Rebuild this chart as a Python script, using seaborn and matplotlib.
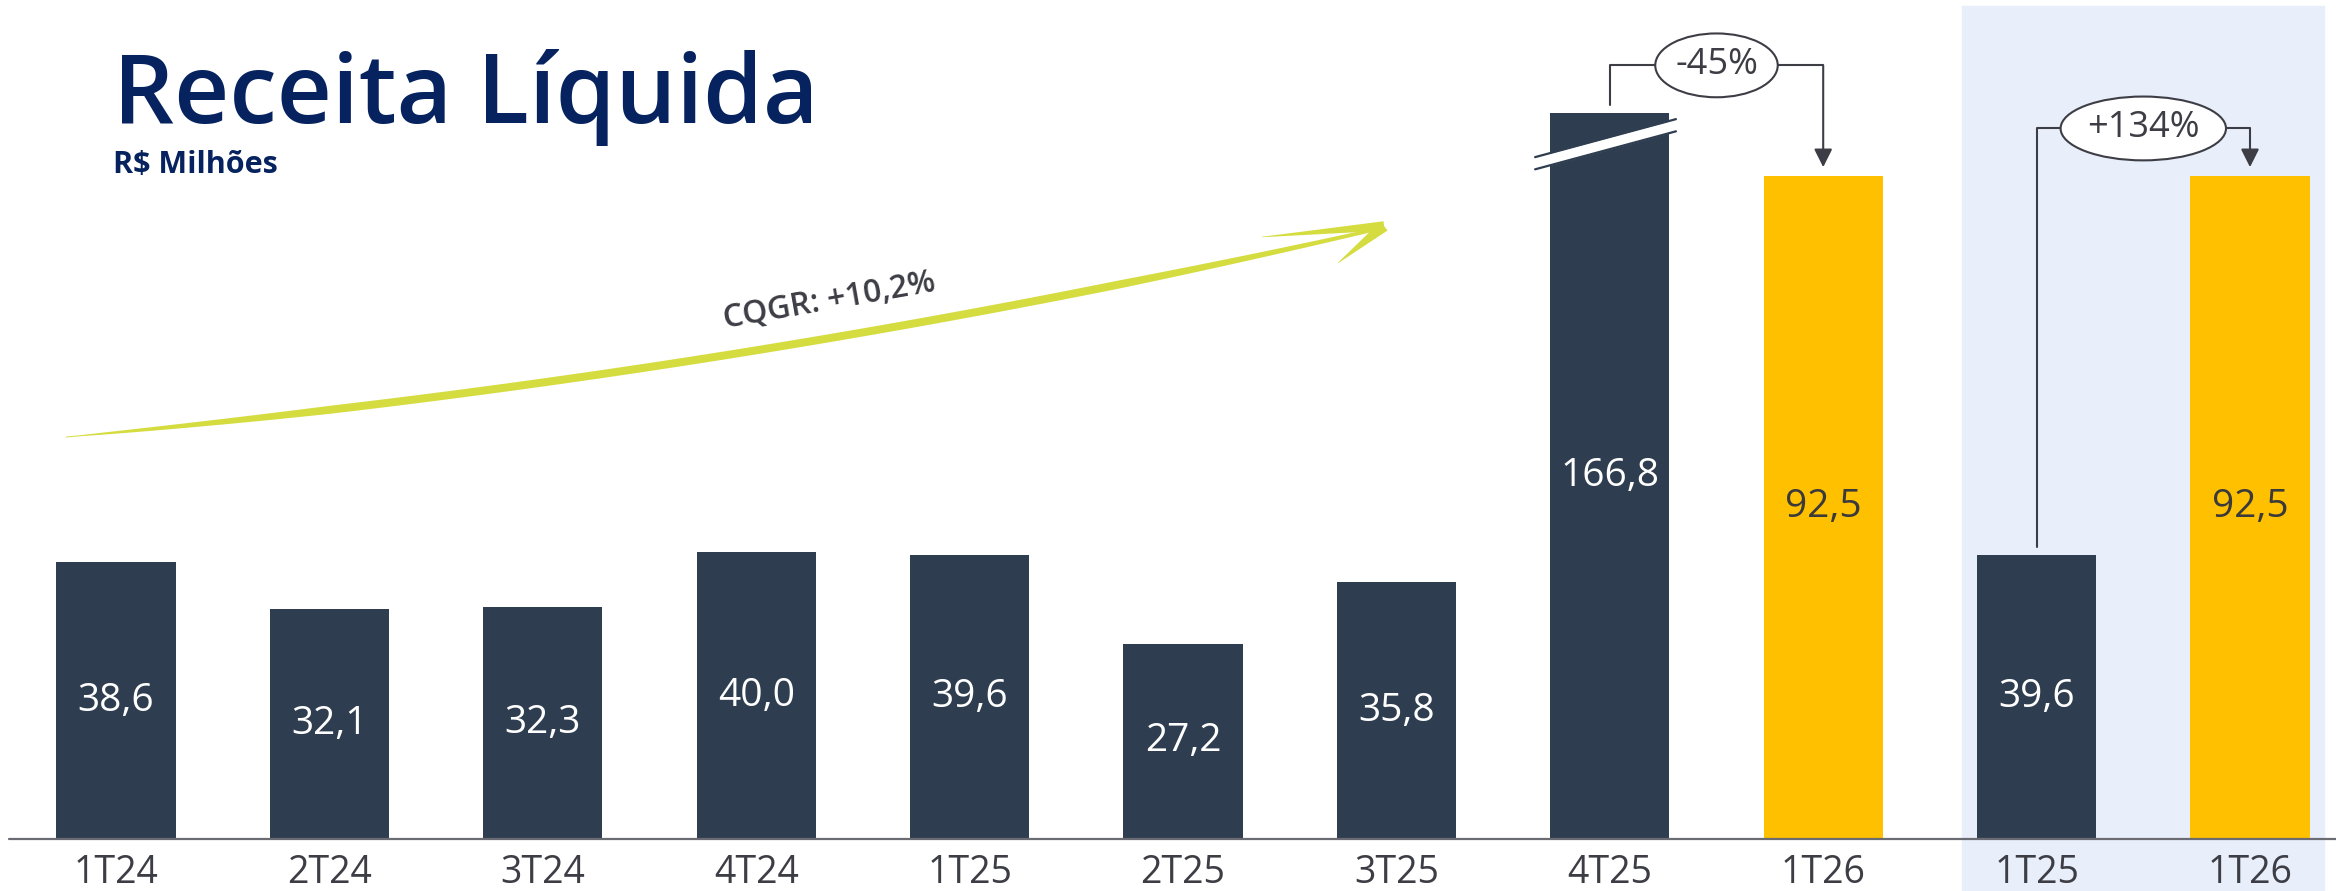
import matplotlib
matplotlib.use("Agg")
import matplotlib.pyplot as plt
import seaborn as sns
import pandas as pd
import numpy as np
from matplotlib.patches import Ellipse, Rectangle, Polygon

# ==========================
# DADOS
# ==========================
trimestres = ["1T24", "2T24", "3T24", "4T24", "1T25", "2T25", "3T25", "4T25", "1T26", "1T25", "1T26"]
receita = [38.6, 32.1, 32.3, 40.0, 39.6, 27.2, 35.8, 166.8, 92.5, 39.6, 92.5]
grupo = ["base"] * 8 + ["atual", "base", "atual"]
limite_corte = 101.3          # altura exibida da barra 4T25 (eixo quebrado)

comparacoes = [(7, 8), (9, 10)]
variacoes = ["-45%", "+134%"]
cqgr = "CQGR: +10,2%"

# ==========================
# ESTILO
# ==========================
AZUL_ESCURO = "#2E3E50"
AMARELO = "#FFC000"
AZUL_TITULO = "#06225F"
CINZA_TEXTO = "#3D3D45"
VERDE_SETA = "#D5DC40"
FUNDO_PAINEL = "#E8EEFA"

sns.set_style("white")
plt.rcParams["font.family"] = ["Open Sans", "DejaVu Sans"]

W, H = 2336, 891
fig = plt.figure(figsize=(W / 100, H / 100), dpi=100)

base_px = 839
px_por_unidade = 7.17
x0_px, passo_px = 116, 213.4

ax = fig.add_axes([0, (H - base_px) / H, 1, base_px / H])
ax.patch.set_alpha(0)

# painel de comparação trimestral
fig.patches.append(Rectangle((1962 / W, 0), (2324 - 1962) / W, (H - 6) / H,
                             transform=fig.transFigure, color=FUNDO_PAINEL, zorder=-5))

exibida = [min(v, limite_corte) for v in receita]
df = pd.DataFrame({"pos": range(len(receita)), "altura": exibida, "grupo": grupo})

sns.barplot(data=df, x="pos", y="altura", hue="grupo", dodge=False,
            palette={"base": AZUL_ESCURO, "atual": AMARELO}, width=0.558,
            saturation=1, legend=False, linewidth=0, ax=ax)

ax.set_xlim(-x0_px / passo_px, (W - x0_px) / passo_px)
ax.set_ylim(0, base_px / px_por_unidade)
ax.set_xlabel("")
ax.set_ylabel("")
ax.set_yticks([])
ax.set_xticks(range(len(trimestres)))
ax.set_xticklabels(trimestres, fontsize=27, color=CINZA_TEXTO)
ax.tick_params(axis="x", length=0, pad=11)
for s in ax.spines.values():
    s.set_visible(False)
ax.axhline(0, xmin=9 / W, xmax=1, color="#6B6B73", lw=1.6, zorder=5, clip_on=False)

# rótulos de valor
for i, (v, h, g) in enumerate(zip(receita, exibida, grupo)):
    cor = "white" if g == "base" else "#3A3A3A"
    ax.text(i, h / 2, f"{v:.1f}".replace(".", ","), ha="center", va="center",
            fontsize=28, color=cor, zorder=6)

# quebra da barra 4T25
i_q = trimestres.index("4T25")
xs = np.array([i_q - 0.35, i_q + 0.31])
sup = np.array([95.1, 100.4])
inf = sup - 1.7
ax.fill_between(xs, inf, sup, color="white", zorder=4, lw=0)
ax.plot(xs, sup, color=AZUL_ESCURO, lw=1.6, zorder=4)
ax.plot(xs, inf, color=AZUL_ESCURO, lw=1.6, zorder=4)

# variações com balão
larg_balao = [0.574, 0.775]
for (i, j), txt, lb in zip(comparacoes, variacoes, larg_balao):
    nivel = max(exibida[i], exibida[j]) + 6.6
    xc = (i + j) / 2
    ax.plot([i, i, xc - lb / 2], [exibida[i] + 1.1, nivel, nivel], color=CINZA_TEXTO, lw=1.5, zorder=6)
    ax.plot([xc + lb / 2, j], [nivel, nivel], color=CINZA_TEXTO, lw=1.5, zorder=6)
    ax.annotate("", xy=(j, exibida[j] + 1.2), xytext=(j, nivel),
                arrowprops=dict(arrowstyle="-|>,head_length=1.1,head_width=0.55",
                                color=CINZA_TEXTO, lw=1.5, shrinkA=0, shrinkB=0,
                                mutation_scale=10), zorder=6)
    ax.add_patch(Ellipse((xc, nivel), lb, 8.9, facecolor="white",
                         edgecolor=CINZA_TEXTO, lw=1.5, zorder=7))
    ax.text(xc, nivel, txt, ha="center", va="center", fontsize=26,
            color=CINZA_TEXTO, zorder=8)

# ==========================
# SETA CQGR (traço de pincel)
# ==========================
def pincel(pts, larg):
    d = np.gradient(pts, axis=0)
    n = np.stack([-d[:, 1], d[:, 0]], axis=1)
    n /= np.linalg.norm(n, axis=1, keepdims=True)
    a = pts + n * larg[:, None] / 2
    b = pts - n * larg[:, None] / 2
    poli = np.vstack([a, b[::-1]])
    poli = np.column_stack([poli[:, 0] / W, 1 - poli[:, 1] / H])
    fig.patches.append(Polygon(poli, closed=True, transform=fig.transFigure,
                               color=VERDE_SETA, lw=0, zorder=3))

t = np.linspace(0, 1, 200)[:, None]
p0, pc, p2 = np.array([66, 437]), np.array([727, 378]), np.array([1382, 228])
curva = (1 - t) ** 2 * p0 + 2 * (1 - t) * t * pc + t ** 2 * p2
tt = t[:, 0]
larg = 8.0 * np.clip(tt / 0.2, 0.05, 1) ** 0.7 * (1 - 0.6 * np.clip((tt - 0.8) / 0.2, 0, 1))
pincel(curva, larg)

s = np.linspace(0, 1, 50)[:, None]
ponta = np.array([1384, 226])
pincel((1 - s) * np.array([1262, 237]) + s * ponta, 9 * s[:, 0] + 0.5)
pincel((1 - s) * np.array([1338, 263]) + s * ponta, 11 * s[:, 0] + 0.5)

fig.text(829 / W, 1 - 301 / H, cqgr, rotation=10, ha="center", va="center",
         fontsize=23, fontweight="semibold", color=CINZA_TEXTO)

# ==========================
# TÍTULOS
# ==========================
fig.text(113 / W, 1 - 123 / H, "Receita Líquida", fontsize=69, fontweight="semibold",
         color=AZUL_TITULO, va="baseline", ha="left")
fig.text(113 / W, 1 - 173 / H, "R$ Milhões", fontsize=22, fontweight="bold",
         color=AZUL_TITULO, va="baseline", ha="left")

fig.savefig("out.png", dpi=100)
